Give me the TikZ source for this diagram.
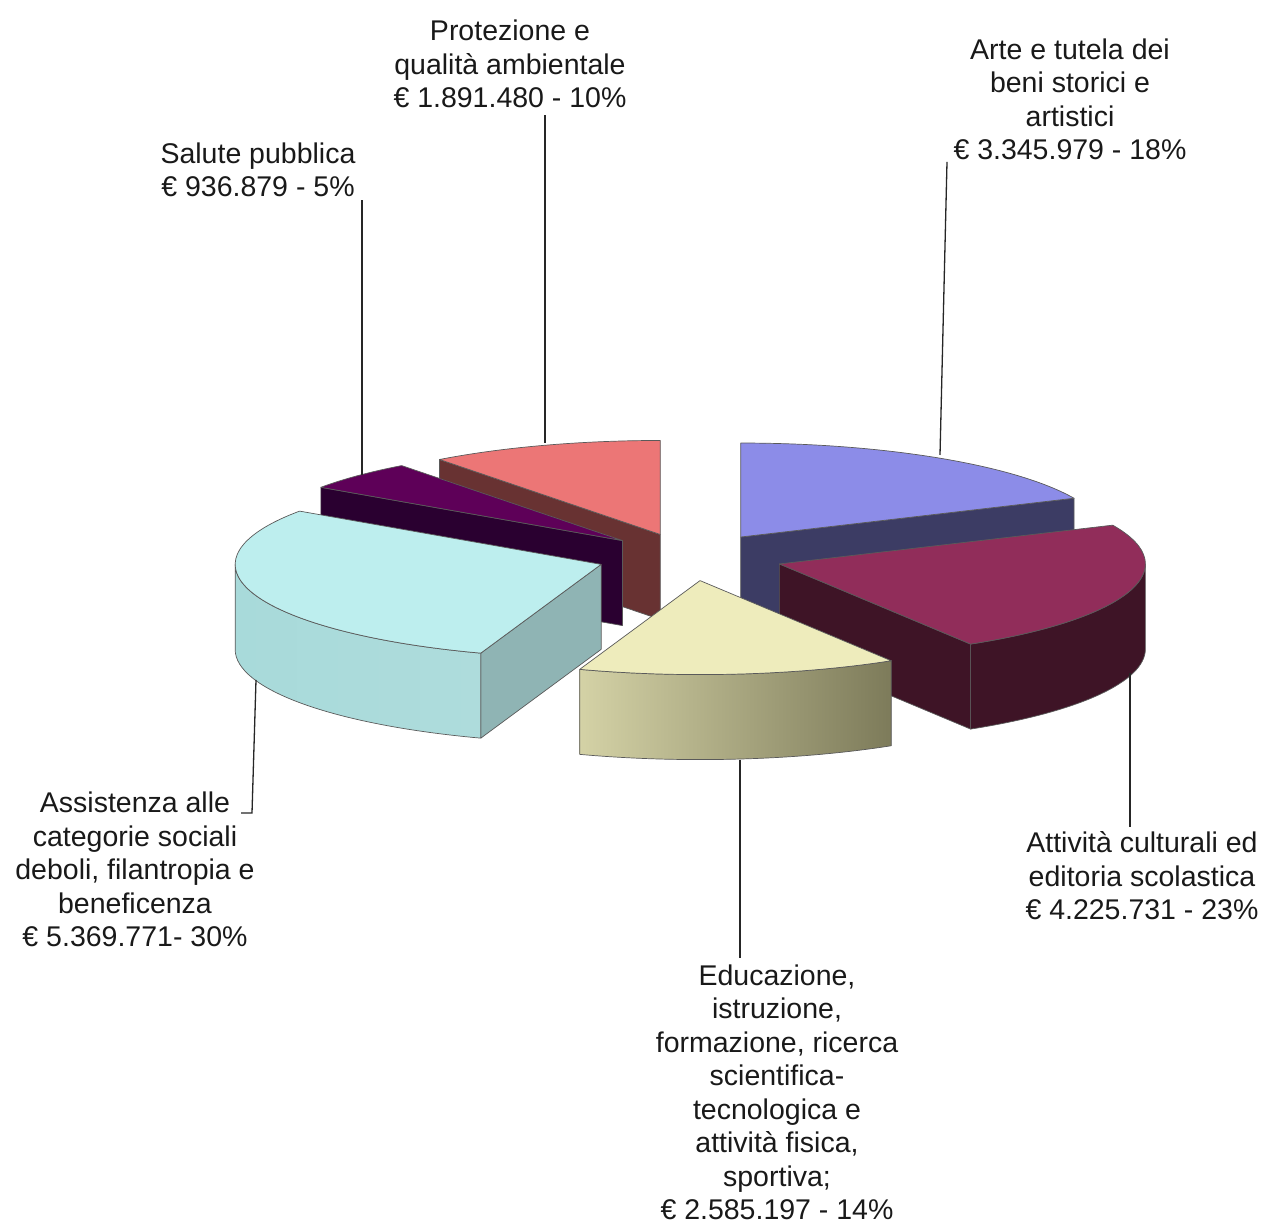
\documentclass[tikz,border=0pt]{standalone}
\usepackage{fontspec}
\setmainfont{Liberation Sans}
\usetikzlibrary{calc}
\definecolor{edgec}{RGB}{90,90,90}
\definecolor{txt}{RGB}{25,25,25}
\definecolor{bluetop}{RGB}{140,140,232}
\definecolor{blueside}{RGB}{60,60,100}
\definecolor{martop}{RGB}{145,45,90}
\definecolor{marside}{RGB}{62,20,38}
\definecolor{yeltop}{RGB}{238,236,188}
\definecolor{yelL}{RGB}{212,210,166}
\definecolor{yelR}{RGB}{125,123,90}
\definecolor{cyantop}{RGB}{189,238,238}
\definecolor{cyanL}{RGB}{168,218,218}
\definecolor{cyanM}{RGB}{190,234,234}
\definecolor{cyanR}{RGB}{174,220,220}
\definecolor{cyanside}{RGB}{143,180,180}
\definecolor{purtop}{RGB}{94,0,88}
\definecolor{purside}{RGB}{42,0,48}
\definecolor{pinktop}{RGB}{236,118,118}
\definecolor{pinkside}{RGB}{104,50,50}
\tikzset{
  face/.style={draw=edgec, line width=0.7pt, line join=round},
  ell/.style={x radius=366, y radius=94},
  lbl/.style={font=\fontsize{28.5}{33.5}\selectfont, text=txt, align=center, inner sep=0pt, anchor=base},
  leader/.style={draw=black!85, line width=1.3pt}
}
\begin{document}
\begin{tikzpicture}[x=1pt,y=1pt]
\useasboundingbox (0,0) rectangle (1267,1225);
\coordinate (C) at (690,668);
\coordinate (Apro) at ($(C)+(108.55:93.5 and 23.75)$);
\coordinate (Aarte) at ($(C)+(57.19:93.5 and 23.75)$);
\coordinate (Asal) at ($(C)+(136.29:93.5 and 23.75)$);
\coordinate (Aatt) at ($(C)+(-17.06:93.5 and 23.75)$);
\coordinate (Aass) at ($(C)+(-161.86:93.5 and 23.75)$);
\coordinate (Aedu) at ($(C)+(-83.85:93.5 and 23.75)$);

% Protezione (pink)
\path[face, fill=pinkside] (Apro) -- ++(127.10:366 and 94) -- ++(0,-85) -- ($(Apro)+(0,-85)$) -- cycle;
\path[face, fill=pinktop] (Apro) -- ++(127.10:366 and 94) arc[start angle=127.10, end angle=90, ell] -- cycle;

% Arte (blue)
\path[face, fill=blueside] (Aarte) -- ++(24.38:366 and 94) -- ++(0,-85) -- ($(Aarte)+(0,-85)$) -- cycle;
\path[face, fill=bluetop] (Aarte) -- ++(90:366 and 94) arc[start angle=90, end angle=24.38, ell] -- cycle;

% Salute (purple)
\path[face, fill=purside] (Asal) -- ++(145.48:366 and 94) -- ++(0,-85) -- ($(Asal)+(0,-85)$) -- cycle;
\path[face, fill=purtop] (Asal) -- ++(145.48:366 and 94) arc[start angle=145.48, end angle=127.10, ell] -- cycle;

% Attivita (maroon)
\path[face, fill=marside] (Aatt) -- ++(-58.5:366 and 94) -- ++(0,-85) -- ($(Aatt)+(0,-85)$) -- cycle;
\path[face, fill=marside] ($(Aatt)+(-58.5:366 and 94)$) arc[start angle=-58.5, end angle=0, ell] -- ++(0,-85) arc[start angle=0, end angle=-58.5, ell] -- cycle;
\path[face, fill=martop] (Aatt) -- ++(24.38:366 and 94) arc[start angle=24.38, end angle=-58.5, ell] -- cycle;

% Assistenza (cyan)
\path[face, fill=cyanside] (Aass) -- ++(-109.2:366 and 94) -- ++(0,-85) -- ($(Aass)+(0,-85)$) -- cycle;
\path[face, left color=cyanL, middle color=cyanM, right color=cyanR] ($(Aass)+(180:366 and 94)$) arc[start angle=180, end angle=250.8, ell] -- ++(0,-85) arc[start angle=250.8, end angle=180, ell] -- cycle;
\path[face, fill=cyantop] (Aass) -- ++(-109.2:366 and 94) arc[start angle=-109.2, end angle=-214.52, ell] -- cycle;

% Educazione (yellow)
\path[face, left color=yelL, right color=yelR] ($(Aedu)+(-109.2:366 and 94)$) arc[start angle=-109.2, end angle=-58.5, ell] -- ++(0,-85) arc[start angle=-58.5, end angle=-109.2, ell] -- cycle;
\path[face, fill=yeltop] (Aedu) -- ++(-58.5:366 and 94) arc[start angle=-58.5, end angle=-109.2, ell] -- cycle;

% Labels (anchor=base is the baseline of the last line)
\node[lbl] (Lpro) at (510,1117) {Protezione e\\qualità ambientale\\€ 1.891.480 - 10\%};
\node[lbl] (Larte) at (1070,1065) {Arte e tutela dei\\beni storici e\\artistici\\€ 3.345.979 - 18\%};
\node[lbl] (Lsal) at (258,1028) {Salute pubblica\\€ 936.879 - 5\%};
\node[lbl] (Latt) at (1142,305) {Attività culturali ed\\editoria scolastica\\€ 4.225.731 - 23\%};
\node[lbl] (Ledu) at (777,5) {Educazione,\\istruzione,\\formazione, ricerca\\scientifica-\\tecnologica e\\attività fisica,\\sportiva;\\€ 2.585.197 - 14\%};
\node[lbl] (Lass) at (135,278) {Assistenza alle\\categorie sociali\\deboli, filantropia e\\beneficenza\\€ 5.369.771- 30\%};

% Leader lines
\coordinate (psal) at (362,750);
\coordinate (tsal) at (362,1025);
\coordinate (ppro) at (545,782);
\coordinate (tpro) at (545,1110);
\coordinate (parte) at (940,770);
\coordinate (tarte) at (947,1063);
\coordinate (patt) at (1130,552);
\coordinate (tatt) at (1130,398);
\coordinate (pedu) at (740,465);
\coordinate (tedu) at (740,267);
\coordinate (pass) at (256,545);
\coordinate (kass) at (252,412);
\coordinate (tass) at (241,412);
\draw[leader] (psal) -- (tsal);
\draw[leader] (ppro) -- (tpro);
\draw[leader] (parte) -- (tarte);
\draw[leader] (patt) -- (tatt);
\draw[leader] (pedu) -- (tedu);
\draw[leader] (pass) -- (kass) -- (tass);
\end{tikzpicture}
\end{document}
